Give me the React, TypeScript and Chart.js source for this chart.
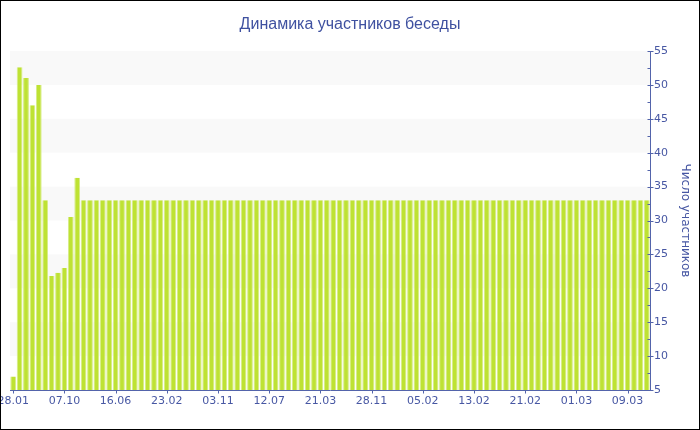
import React, { useEffect, useRef } from "react";
import { Chart, registerables } from "chart.js";

Chart.register(...registerables);

const TITLE = "Динамика участников беседы";
const Y_TITLE = "Число участников";

const labels: string[] = [
  "28.01", "28.02", "01.04", "02.05", "03.06", "04.07", "05.08", "05.09", "07.10",
  "07.11", "08.12", "08.01", "09.02", "11.03", "12.04", "14.05", "16.06",
  "17.07", "17.08", "18.09", "19.10", "20.11", "21.12", "22.01", "23.02",
  "25.03", "26.04", "27.05", "28.06", "29.07", "30.08", "01.10", "03.11",
  "04.12", "04.01", "05.02", "08.03", "08.04", "10.05", "10.06", "12.07",
  "12.08", "13.09", "14.10", "15.11", "16.12", "17.01", "17.02", "21.03",
  "21.04", "22.05", "23.06", "24.07", "25.08", "25.09", "27.10", "28.11",
  "07.12", "16.12", "24.12", "01.01", "10.01", "19.01", "27.01", "05.02",
  "06.02", "07.02", "08.02", "09.02", "10.02", "11.02", "12.02", "13.02",
  "14.02", "15.02", "16.02", "17.02", "18.02", "19.02", "20.02", "21.02",
  "22.02", "23.02", "24.02", "25.02", "26.02", "27.02", "28.02", "01.03",
  "02.03", "03.03", "04.03", "05.03", "06.03", "07.03", "08.03", "09.03",
  "10.03", "11.03", "12.03",
];

const participants: number[] = [
  7, 52.6, 51, 47, 50, 33, 21.8, 22.3, 23, 30.5,
  36.3, 33, 33, 33, 33, 33, 33, 33, 33, 33,
  33, 33, 33, 33, 33, 33, 33, 33, 33, 33,
  33, 33, 33, 33, 33, 33, 33, 33, 33, 33,
  33, 33, 33, 33, 33, 33, 33, 33, 33, 33,
  33, 33, 33, 33, 33, 33, 33, 33, 33, 33,
  33, 33, 33, 33, 33, 33, 33, 33, 33, 33,
  33, 33, 33, 33, 33, 33, 33, 33, 33, 33,
  33, 33, 33, 33, 33, 33, 33, 33, 33, 33,
  33, 33, 33, 33, 33, 33, 33, 33, 33, 33,
];

const Y_MIN = 5;
const Y_MAX = 55;
const Y_STEP = 5;
const Y_MINOR_STEP = 2.5;
const bands: [number, number][] = [
  [50, 55],
  [40, 45],
  [30, 35],
  [20, 25],
  [10, 15],
];
const LABEL_EVERY = 8;

const AXIS_COLOR = "#5364ab";
const TEXT_COLOR = "#4757a3";
const TITLE_COLOR = "#3f51a0";
const BAR_COLOR = "#bee233";
const BAR_EDGE = "#d6ec86";
const BAND_COLOR = "#f9f9f9";

const decorPlugin = {
  id: "decor",
  beforeDatasetsDraw(chart: any) {
    const { ctx, chartArea, scales } = chart;
    const y = scales.y;
    ctx.save();
    ctx.fillStyle = BAND_COLOR;
    for (const [a, b] of bands) {
      const y1 = y.getPixelForValue(b);
      const y2 = y.getPixelForValue(a);
      ctx.fillRect(chartArea.left, y1, chartArea.right - chartArea.left, y2 - y1);
    }
    ctx.restore();
  },
  afterDraw(chart: any) {
    const { ctx, chartArea, scales, width, height } = chart;
    const y = scales.y;
    const x = scales.x;
    ctx.save();
    ctx.strokeStyle = AXIS_COLOR;
    ctx.lineWidth = 1;
    ctx.beginPath();
    const ax = Math.round(chartArea.right) + 0.5;
    for (let v = Y_MIN; v <= Y_MAX + 1e-9; v += Y_MINOR_STEP) {
      const py = Math.round(y.getPixelForValue(v)) + 0.5;
      const major = Math.abs(v / Y_STEP - Math.round(v / Y_STEP)) < 1e-9;
      ctx.moveTo(ax - 3, py);
      ctx.lineTo(major ? ax + 3 : ax, py);
    }
    const by = Math.round(chartArea.bottom) + 0.5;
    for (let i = 0; i < labels.length; i += LABEL_EVERY) {
      const px = Math.round(x.getPixelForValue(i)) + 0.5;
      ctx.moveTo(px, by);
      ctx.lineTo(px, by + 3);
    }
    ctx.stroke();
    ctx.fillStyle = TITLE_COLOR;
    ctx.font = "16px 'Liberation Sans', Arial, sans-serif";
    ctx.textAlign = "center";
    ctx.textBaseline = "alphabetic";
    ctx.fillText(TITLE, 350, 28.5);
    ctx.strokeStyle = "#000";
    ctx.strokeRect(0.5, 0.5, width - 1, height - 1);
    ctx.restore();
  },
};

export default function App() {
  const ref = useRef<HTMLCanvasElement | null>(null);
  useEffect(() => {
    if (!ref.current) return;
    Chart.defaults.font.family = "'DejaVu Sans', Verdana, sans-serif";
    const chart = new Chart(ref.current, {
      type: "bar",
      data: {
        labels,
        datasets: [
          {
            data: participants,
            backgroundColor: BAR_COLOR,
            borderColor: BAR_EDGE,
            borderWidth: { left: 1, right: 1, top: 0, bottom: 0 },
            borderSkipped: "start",
            barPercentage: 0.9,
            categoryPercentage: 1,
          },
        ],
      },
      options: {
        responsive: false,
        animation: false,
        devicePixelRatio: 1,
        layout: { padding: { left: 10, right: 0, top: 51, bottom: 0 } },
        plugins: {
          legend: { display: false },
          tooltip: { enabled: false },
          title: { display: false },
        },
        scales: {
          x: {
            type: "category",
            offset: true,
            grid: { display: true, drawOnChartArea: false, drawTicks: false },
            border: { display: true, color: AXIS_COLOR, width: 1 },
            ticks: {
              autoSkip: false,
              maxRotation: 0,
              minRotation: 0,
              padding: 5,
              color: TEXT_COLOR,
              font: { size: 11 },
              callback: (_v: any, i: number) => (i % LABEL_EVERY === 0 ? labels[i] : ""),
            },
            afterFit: (s: any) => {
              s.height = 40;
              s.paddingLeft = 0;
              s.paddingRight = 0;
            },
          },
          y: {
            position: "right",
            min: Y_MIN,
            max: Y_MAX,
            grid: { display: true, drawOnChartArea: false, drawTicks: false },
            border: { display: true, color: AXIS_COLOR, width: 1 },
            ticks: {
              stepSize: Y_STEP,
              padding: 4,
              color: TEXT_COLOR,
              font: { size: 11 },
            },
            title: {
              display: true,
              text: Y_TITLE,
              color: TEXT_COLOR,
              font: { size: 12, weight: "normal" },
              padding: { top: 8, bottom: 4 },
            },
            afterFit: (s: any) => {
              s.width = 50;
              s.paddingTop = 0;
            },
          },
        },
      },
      plugins: [decorPlugin],
    });
    return () => chart.destroy();
  }, []);
  return (
    <div style={{ position: "absolute", left: 0, top: 0, width: 700, height: 430 }}>
      <canvas ref={ref} width={700} height={430} style={{ display: "block" }} />
    </div>
  );
}
